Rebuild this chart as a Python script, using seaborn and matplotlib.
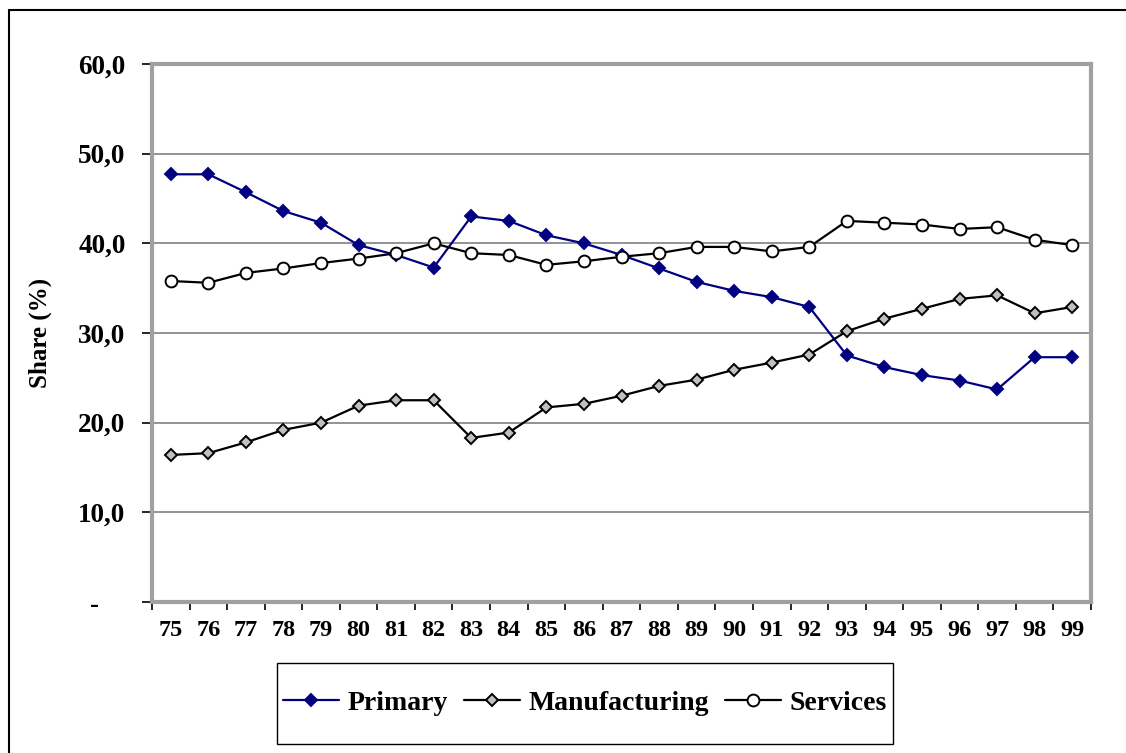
import numpy as np
import pandas as pd
import matplotlib
matplotlib.use("Agg")
import matplotlib.pyplot as plt
import seaborn as sns
from matplotlib.lines import Line2D
from matplotlib.patches import Rectangle

years = ["75", "76", "77", "78", "79", "80", "81", "82", "83", "84", "85", "86",
         "87", "88", "89", "90", "91", "92", "93", "94", "95", "96", "97", "98", "99"]
primary = [47.7, 47.7, 45.7, 43.6, 42.3, 39.8, 38.7, 37.3, 43.0, 42.5, 40.9, 40.0,
           38.7, 37.2, 35.7, 34.7, 34.0, 32.9, 27.5, 26.2, 25.3, 24.7, 23.7, 27.3, 27.3]
manufacturing = [16.4, 16.6, 17.8, 19.2, 20.0, 21.9, 22.5, 22.5, 18.3, 18.9, 21.7, 22.1,
                 23.0, 24.1, 24.8, 25.9, 26.7, 27.6, 30.2, 31.6, 32.7, 33.8, 34.2, 32.2, 32.9]
services = [35.8, 35.6, 36.7, 37.2, 37.8, 38.3, 38.9, 40.0, 38.9, 38.7, 37.6, 38.0,
            38.5, 38.9, 39.6, 39.6, 39.1, 39.6, 42.5, 42.3, 42.1, 41.6, 41.8, 40.4, 39.8]
series_names = ["Primary", "Manufacturing", "Services"]
y_ticks = [0, 10, 20, 30, 40, 50, 60]
y_tick_labels = ["-    ", "10,0", "20,0", "30,0", "40,0", "50,0", "60,0"]

sns.set_theme(style="white")
plt.rcParams["font.family"] = ["Liberation Serif", "DejaVu Serif"]
plt.rcParams["font.weight"] = "bold"
plt.rcParams["text.color"] = "black"
plt.rcParams["axes.labelcolor"] = "black"
plt.rcParams["xtick.color"] = "black"
plt.rcParams["ytick.color"] = "black"

df = pd.DataFrame({
    "pos": np.tile(np.arange(len(years)), 3),
    "share": primary + manufacturing + services,
    "sector": np.repeat(series_names, len(years)),
})

styles = {
    "Primary": dict(color="#000080", marker="D", mfc="#000080", mec="#000080", ms=6.0),
    "Manufacturing": dict(color="black", marker="D", mfc="#C0C0C0", mec="black", ms=6.2),
    "Services": dict(color="black", marker="o", mfc="white", mec="black", ms=8.5),
}

fig = plt.figure(figsize=(11.26, 7.53), dpi=100)
ax = fig.add_axes([152 / 1126, 1 - 602 / 753, (1091 - 152) / 1126, (602 - 64) / 753])

for name in series_names:
    st = styles[name]
    sns.lineplot(data=df[df["sector"] == name], x="pos", y="share", ax=ax,
                 color=st["color"], linewidth=1.6, marker=st["marker"],
                 markersize=st["ms"], markerfacecolor=st["mfc"],
                 markeredgecolor=st["mec"], markeredgewidth=1.4, legend=False,
                 zorder=3)

ax.set_xlim(-0.5, len(years) - 0.5)
ax.set_ylim(0, 60)
ax.set_xticks(np.arange(len(years)))
ax.set_xticklabels(years, fontsize=17.5, fontweight="bold", color="black")
ax.set_xticks(np.arange(len(years) + 1) - 0.5, minor=True)
ax.tick_params(axis="x", which="major", length=0, pad=13)
ax.tick_params(axis="x", which="minor", length=6, width=1.2, color="black",
               direction="out", bottom=True)
ax.set_yticks(y_ticks)
ax.set_yticklabels(y_tick_labels, fontsize=19.5, fontweight="bold", color="black")
ax.tick_params(axis="y", which="major", length=7, width=1.2, color="black",
               direction="out", left=True, pad=12)
ax.yaxis.grid(True, color="#808080", linewidth=1.2)
ax.xaxis.grid(False)
ax.set_axisbelow(True)
for sp in ax.spines.values():
    sp.set_color("#A0A0A0")
    sp.set_linewidth(3)
ax.set_xlabel("")
ax.set_ylabel("Share (%)", fontsize=18, fontweight="bold", color="black", labelpad=19)

handles = [Line2D([0], [0], color=styles[n]["color"], linewidth=1.6,
                  marker=styles[n]["marker"], markersize=styles[n]["ms"],
                  markerfacecolor=styles[n]["mfc"], markeredgecolor=styles[n]["mec"],
                  markeredgewidth=1.4) for n in series_names]
leg = fig.legend(handles, series_names, loc="center", ncol=3,
                 bbox_to_anchor=(585 / 1126, 1 - 703 / 753),
                 prop={"family": "Liberation Serif", "weight": "bold", "size": 20},
                 frameon=False, handlelength=2.0, handletextpad=0.3,
                 columnspacing=0.6, borderpad=1.0, borderaxespad=0)
for t in leg.get_texts():
    t.set_color("black")

# Legend box, tighter at the sides than at top and bottom
fig.add_artist(Rectangle((277 / 1126, 1 - 744 / 753), (893 - 277) / 1126, (744 - 663) / 753,
                         transform=fig.transFigure, fill=False, edgecolor="black",
                         linewidth=1.0))

# Outer chart frame (top and left edges only)
fig.add_artist(Line2D([9 / 1126, 9 / 1126], [1 - 10 / 753, 0], transform=fig.transFigure,
                      color="black", linewidth=1.5))
fig.add_artist(Line2D([9 / 1126, 1], [1 - 10 / 753, 1 - 10 / 753], transform=fig.transFigure,
                      color="black", linewidth=1.5))

fig.savefig("out.png", dpi=100)
